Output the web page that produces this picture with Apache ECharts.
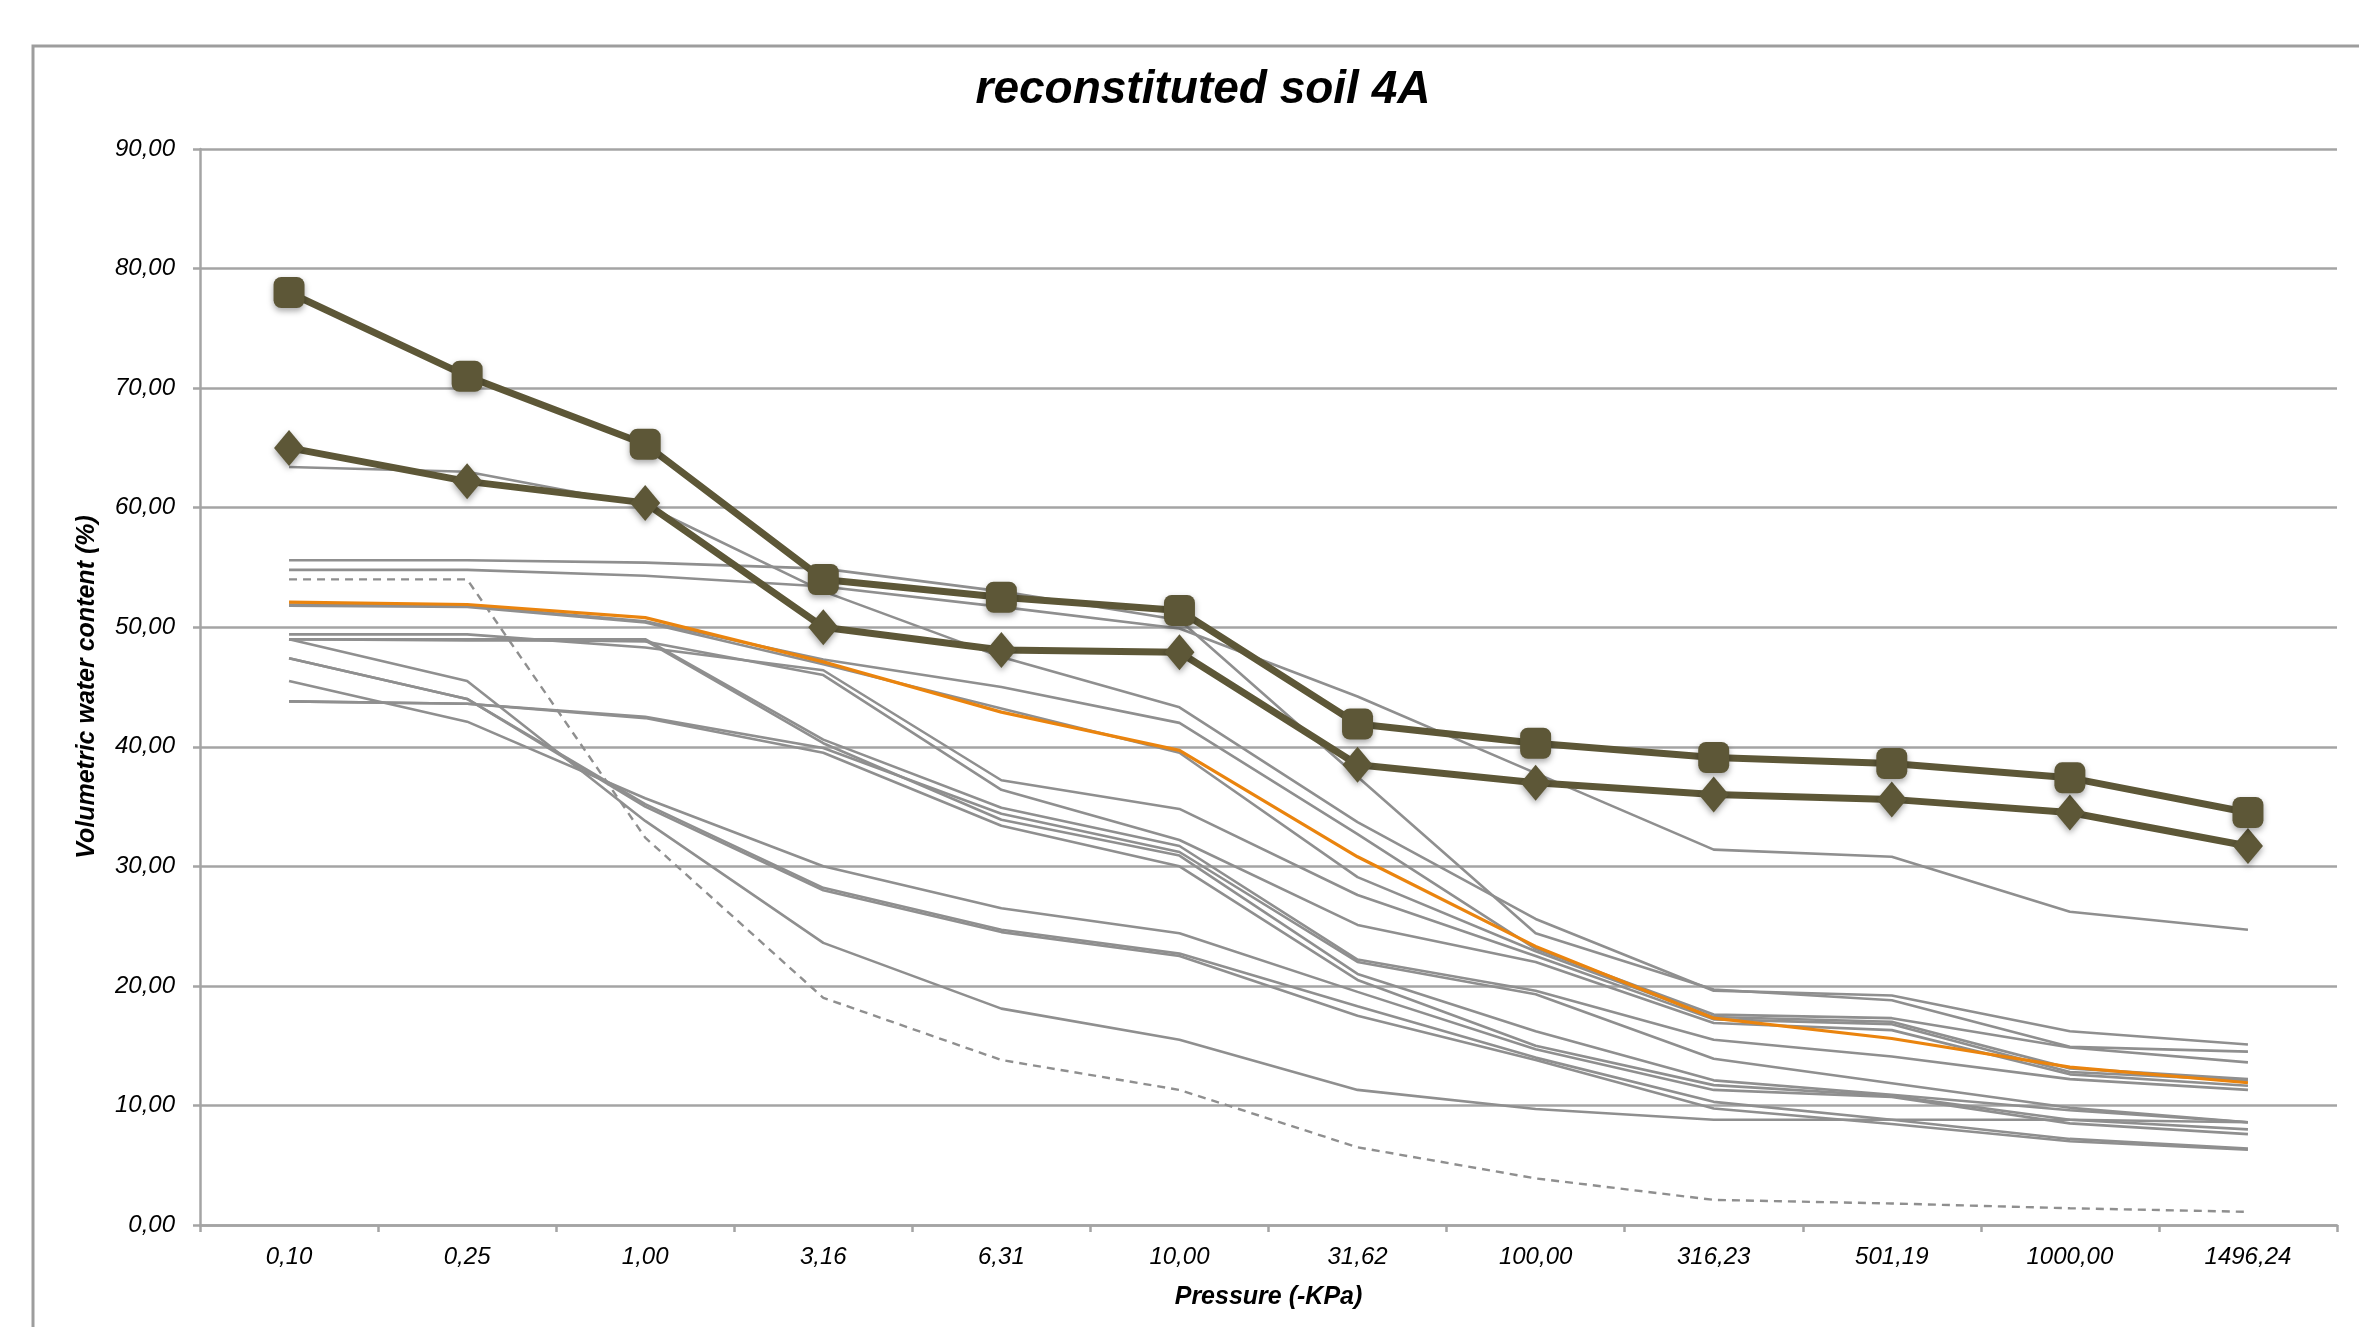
<!DOCTYPE html>
<html>
<head>
<meta charset="utf-8">
<script src="https://cdn.jsdelivr.net/npm/echarts@6/dist/echarts.min.js"></script>
<style>
  html, body { margin: 0; padding: 0; background: #fff; }
  #chart { width: 2359px; height: 1327px; }
</style>
</head>
<body>
<div id="chart"></div>
<script>
// reconstituted soil 4A — water retention curves
var pressures = ['0,10', '0,25', '1,00', '3,16', '6,31', '10,00', '31,62', '100,00', '316,23', '501,19', '1000,00', '1496,24'];

// the two thick curves
var squareCurve  = [78.0, 71.0, 65.3, 54.0, 52.5, 51.4, 41.9, 40.3, 39.1, 38.6, 37.4, 34.5];
var diamondCurve = [65.0, 62.2, 60.4, 50.0, 48.1, 47.9, 38.5, 37.0, 36.0, 35.6, 34.5, 31.7];
// highlighted (orange) and dashed sample
var orangeCurve  = [52.1, 51.9, 50.8, 47.1, 42.9, 39.7, 30.8, 23.3, 17.3, 15.6, 13.2, 11.9];
var dashedCurve  = [54.0, 54.0, 32.4, 19.0, 13.8, 11.3, 6.5, 3.9, 2.1, 1.8, 1.4, 1.1];
// thin grey samples
var grey01 = [63.4, 63.0, 60.2, 53.0, 47.5, 43.3, 33.7, 25.6, 19.6, 19.2, 16.2, 15.1];
var grey02 = [55.6, 55.6, 55.4, 54.9, 53.0, 50.6, 37.5, 24.4, 19.7, 18.8, 14.9, 14.5];
var grey03 = [54.8, 54.8, 54.3, 53.4, 51.7, 49.9, 44.2, 37.8, 31.4, 30.8, 26.2, 24.7];
var grey04 = [51.9, 51.8, 50.5, 47.3, 45.0, 42.0, 32.7, 23.1, 17.6, 17.3, 14.85, 13.6];
var grey05 = [51.8, 51.7, 50.4, 46.9, 43.2, 39.5, 29.1, 22.9, 17.4, 17.0, 13.1, 12.2];
var grey06 = [49.4, 49.4, 48.3, 46.4, 37.2, 34.8, 27.6, 22.5, 17.2, 16.8, 12.8, 12.1];
var grey07 = [49.0, 49.0, 48.8, 46.0, 36.4, 32.2, 25.1, 22.0, 16.9, 16.3, 12.6, 11.65];
var grey08 = [49.0, 49.0, 49.0, 40.6, 34.9, 31.7, 22.2, 19.6, 15.5, 14.1, 12.2, 11.3];
var grey09 = [43.8, 43.6, 42.5, 39.9, 34.4, 31.2, 22.0, 19.3, 13.9, 11.85, 9.8, 8.6];
var grey10 = [49.0, 48.9, 48.9, 40.3, 33.9, 30.9, 21.0, 16.2, 12.1, 10.9, 9.6, 8.6];
var grey11 = [43.8, 43.6, 42.4, 39.5, 33.4, 30.0, 20.5, 15.0, 11.7, 10.8, 8.8, 8.0];
var grey12 = [45.5, 42.1, 35.7, 30.0, 26.5, 24.4, 19.5, 14.7, 11.3, 10.7, 8.5, 7.6];
var grey13 = [47.4, 44.0, 35.2, 28.2, 24.7, 22.7, 18.3, 14.0, 10.3, 8.8, 7.2, 6.4];
var grey14 = [47.4, 44.0, 35.0, 28.0, 24.5, 22.5, 17.5, 13.8, 9.75, 8.45, 7.0, 6.3];
var grey15 = [49.0, 45.5, 33.8, 23.6, 18.1, 15.5, 11.3, 9.7, 8.8, 8.8, 8.8, 8.6];
var greyCurves = [grey01, grey02, grey03, grey04, grey05, grey06, grey07, grey08,
                  grey09, grey10, grey11, grey12, grey13, grey14, grey15];

var olive = '#5d5737';
var grey = '#8f8f8f';
var gridGrey = '#a4a4a4';
var font = '"Liberation Sans", Arial, Helvetica, sans-serif';

var series = [];
greyCurves.forEach(function(d, i) {
  series.push({
    name: 'sample ' + (i + 1),
    type: 'line',
    data: d,
    symbol: 'none',
    lineStyle: { color: grey, width: 2.6 },
    z: 2
  });
});
series.push({
  name: 'dashed',
  type: 'line',
  data: dashedCurve,
  symbol: 'none',
  lineStyle: { color: grey, width: 2.4, type: [8, 6] },
  z: 2
});
series.push({
  name: 'orange',
  type: 'line',
  data: orangeCurve,
  symbol: 'none',
  lineStyle: { color: '#ea840e', width: 3.2 },
  z: 3
});
series.push({
  name: 'diamond',
  type: 'line',
  data: diamondCurve,
  symbol: 'diamond',
  symbolSize: [30, 36],
  lineStyle: { color: olive, width: 7 },
  itemStyle: { color: olive, shadowBlur: 6, shadowColor: 'rgba(0,0,0,0.35)', shadowOffsetY: 3 },
  z: 4
});
series.push({
  name: 'square',
  type: 'line',
  data: squareCurve,
  symbol: 'roundRect',
  symbolSize: 31,
  lineStyle: { color: olive, width: 7 },
  itemStyle: { color: olive, shadowBlur: 6, shadowColor: 'rgba(0,0,0,0.35)', shadowOffsetY: 3 },
  z: 5
});

var chart = echarts.init(document.getElementById('chart'), null, { renderer: 'canvas' });
chart.setOption({
  animation: false,
  backgroundColor: '#fff',
  title: {
    text: 'reconstituted soil 4A',
    left: 1198,
    textAlign: 'center',
    top: 62,
    textStyle: { fontFamily: font, fontSize: 46, fontWeight: 'bold', fontStyle: 'italic', color: '#000' }
  },
  graphic: [{
    type: 'rect',
    shape: { x: 33, y: 46, width: 2400, height: 1400 },
    style: { fill: 'none', stroke: '#9d9d9d', lineWidth: 3 },
    silent: true
  }],
  grid: { left: 200, right: 22, top: 149, bottom: 102 },
  xAxis: {
    type: 'category',
    data: pressures,
    name: 'Pressure (-KPa)',
    nameLocation: 'middle',
    nameGap: 60,
    nameTextStyle: { fontFamily: font, fontSize: 25, fontWeight: 'bold', fontStyle: 'italic', color: '#000' },
    axisLine: { lineStyle: { color: gridGrey, width: 2.5 } },
    axisTick: { show: true, length: 7, lineStyle: { color: gridGrey, width: 2.5 } },
    axisLabel: { fontFamily: font, fontSize: 24, fontStyle: 'italic', color: '#000', margin: 20, interval: 0 }
  },
  yAxis: {
    type: 'value',
    min: 0,
    max: 90,
    interval: 10,
    name: 'Volumetric water content (%)',
    nameLocation: 'middle',
    nameGap: 100,
    nameTextStyle: { fontFamily: font, fontSize: 25, fontWeight: 'bold', fontStyle: 'italic', color: '#000' },
    axisLine: { show: true, lineStyle: { color: gridGrey, width: 2.5 } },
    axisTick: { show: true, length: 7, lineStyle: { color: gridGrey, width: 2.5 } },
    splitLine: { lineStyle: { color: gridGrey, width: 2.5 } },
    axisLabel: {
      fontFamily: font, fontSize: 24, fontStyle: 'italic', color: '#000', margin: 25,
      formatter: function(v) { return v.toFixed(2).replace('.', ','); }
    }
  },
  series: series
});
</script>
</body>
</html>
